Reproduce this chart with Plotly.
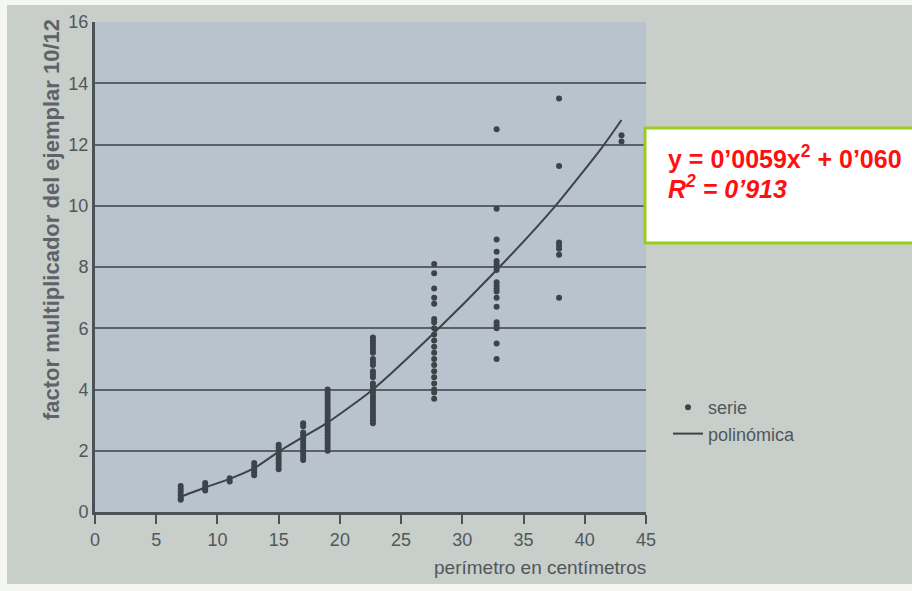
import plotly.graph_objects as go

# ---- data ----
perimeters = [7, 9, 11, 13, 15, 17, 19, 22.7, 27.7, 32.8, 37.9, 43]
factor_values = [
    [0.85, 0.75, 0.65, 0.55, 0.45, 0.4],
    [0.95, 0.85, 0.75, 0.7],
    [1.1, 1.0],
    [1.6, 1.5, 1.4, 1.3, 1.2],
    [2.2, 2.1, 2.0, 1.9, 1.8, 1.7, 1.6, 1.5, 1.4],
    [2.9, 2.8, 2.6, 2.5, 2.4, 2.3, 2.2, 2.1, 2.0, 1.9, 1.8, 1.7],
    [4.0, 3.9, 3.8, 3.7, 3.6, 3.5, 3.4, 3.3, 3.2, 3.1, 3.0, 2.9, 2.8, 2.7,
     2.6, 2.5, 2.4, 2.3, 2.2, 2.1, 2.0],
    [5.7, 5.6, 5.5, 5.4, 5.3, 5.2, 5.0, 4.9, 4.8, 4.6, 4.5, 4.4, 4.2, 4.1,
     4.0, 3.9, 3.8, 3.7, 3.6, 3.5, 3.4, 3.3, 3.2, 3.1, 3.0, 2.9],
    [8.1, 7.8, 7.3, 7.0, 6.8, 6.3, 6.2, 6.0, 5.8, 5.6, 5.4, 5.2, 5.0, 4.8,
     4.6, 4.4, 4.2, 4.0, 3.9, 3.7],
    [12.5, 9.9, 8.9, 8.5, 8.2, 8.1, 8.0, 7.9, 7.5, 7.4, 7.3, 7.2, 7.0, 6.7,
     6.2, 6.1, 6.0, 5.5, 5.0],
    [13.5, 11.3, 8.8, 8.7, 8.6, 8.4, 7.0],
    [12.3, 12.1],
]
curve_x = [7, 9, 11, 13, 15, 17, 19, 22.7, 27.7, 32.8, 37.5, 41.4, 43]
curve_y = [0.5, 0.8, 1.08, 1.43, 1.97, 2.45, 2.92, 4.0, 5.85, 7.9, 9.95, 11.9, 12.8]
y_ticks = [0, 2, 4, 6, 8, 10, 12, 14, 16]
grid_vals = [2, 4, 6, 8, 10, 12, 14]
x_ticks = [0, 5, 10, 15, 20, 25, 30, 35, 40, 45]

x_title = "perímetro en centímetros"
y_title = "factor multiplicador del ejemplar 10/12"
eq_line1 = "y = 0’0059x<sup>2</sup> + 0’060"
eq_line2 = "<i>R<sup>2</sup> = 0’913</i>"

# ---- figure geometry ----
W, H = 912, 591
ML, MR, MT, MB = 95, 266, 22, 79
PW, PH = W - ML - MR, H - MT - MB


def px(x):
    return (x - ML) / PW


def py(y):
    return (H - MB - y) / PH


pts_x, pts_y = [], []
for p, vals in zip(perimeters, factor_values):
    for v in vals:
        pts_x.append(p)
        pts_y.append(v)

INK = "#3c444a"
TXT = "#50575c"
FONT = "Liberation Sans, Arial, sans-serif"

fig = go.Figure()
fig.add_trace(go.Scatter(
    x=pts_x, y=pts_y, mode="markers", name="serie",
    marker=dict(size=6, color=INK),
))
fig.add_trace(go.Scatter(
    x=curve_x, y=curve_y, mode="lines", name="polinómica",
    line=dict(color=INK, width=2, shape="spline", smoothing=0.6),
))
# invisible trace to activate yaxis2 (tick labels + left axis line)
fig.add_trace(go.Scatter(x=[None], y=[None], yaxis="y2", showlegend=False,
                         hoverinfo="skip"))

fig.update_layout(
    width=W, height=H,
    margin=dict(l=ML, r=MR, t=MT, b=MB),
    paper_bgcolor="#c8cec9",
    plot_bgcolor="#b8c3ce",
    font=dict(family=FONT, color=TXT, size=18),
    showlegend=True,
    legend=dict(
        x=px(668), y=py(389), xanchor="left", yanchor="top",
        bgcolor="rgba(0,0,0,0)", font=dict(size=18, color=TXT),
        tracegroupgap=0, itemwidth=30,
    ),
    xaxis=dict(
        range=[0, 45], tickvals=x_ticks, showgrid=False, zeroline=False,
        showline=True, linecolor="#4a5258", linewidth=3,
        ticks="outside", ticklen=9, tickwidth=2, tickcolor="#4a5258",
        tickfont=dict(size=18, color=TXT),
    ),
    yaxis=dict(
        range=[0, 16], tickvals=grid_vals, showticklabels=False,
        showgrid=True, gridcolor="#596167", gridwidth=2, zeroline=False,
        showline=False, ticks="",
    ),
    yaxis2=dict(
        range=[0, 16], tickvals=y_ticks, overlaying="y", side="left",
        showgrid=False, zeroline=False, showline=True,
        linecolor="#4a5258", linewidth=3, ticks="",
        tickfont=dict(size=18, color=TXT),
    ),
)

# axis titles
fig.add_annotation(text="<b>" + y_title + "</b>", textangle=-90,
                   x=px(52), y=py(220),
                   xref="paper", yref="paper", showarrow=False,
                   font=dict(size=22, color="#5d6367", family=FONT),
                   xanchor="center", yanchor="middle")
fig.add_annotation(text=x_title, x=px(648), y=py(567),
                   xref="paper", yref="paper", showarrow=False,
                   font=dict(size=19, color=TXT, family=FONT),
                   xanchor="right", yanchor="middle")

# equation box
fig.add_shape(type="rect", xref="paper", yref="paper",
              x0=px(645), x1=px(925), y0=py(243), y1=py(128),
              fillcolor="white", line=dict(color="#9acd1e", width=3),
              layer="above")
fig.add_annotation(text="<b>" + eq_line1 + "</b>", x=px(666), y=py(157),
                   xref="paper", yref="paper", showarrow=False,
                   font=dict(size=25, color="#ff1010", family=FONT),
                   xanchor="left", yanchor="middle")
fig.add_annotation(text="<b>" + eq_line2 + "</b>", x=px(666), y=py(187),
                   xref="paper", yref="paper", showarrow=False,
                   font=dict(size=25, color="#ff1010", family=FONT),
                   xanchor="left", yanchor="middle")

# white photo borders
for (a, b, c, d) in [(0, 0, W, 5), (0, 0, 7, H), (0, 584, W, H)]:
    fig.add_shape(type="rect", xref="paper", yref="paper",
                  x0=px(a), x1=px(c), y0=py(d), y1=py(b),
                  fillcolor="#f4f6f3", line=dict(width=0), layer="above")

fig.write_html(
    "out.html",
    config={"displayModeBar": False},
    post_script="document.body.style.margin='0';document.body.style.overflow='hidden';",
)
